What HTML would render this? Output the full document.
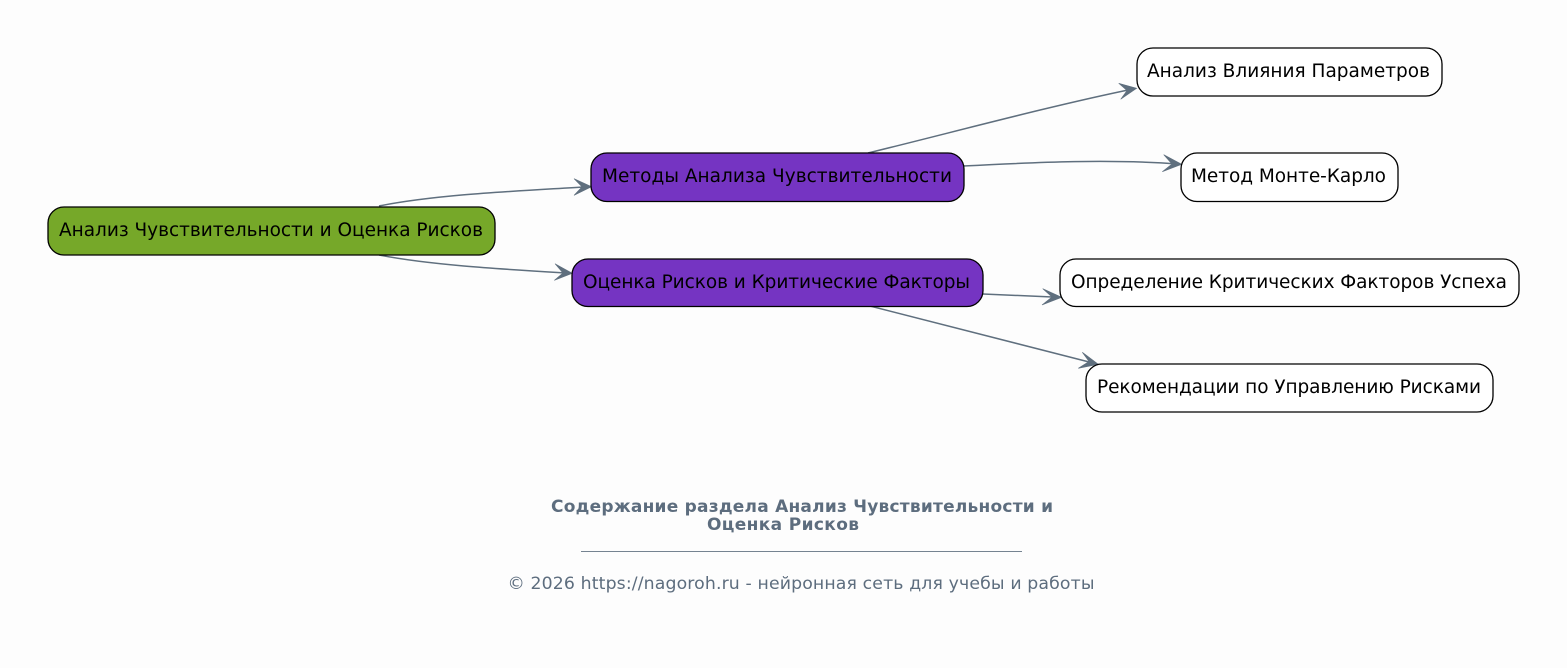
<!DOCTYPE html>
<html><head><meta charset="utf-8"><style>
html,body{margin:0;padding:0;background:#fdfdfd}
svg{display:block}
text{font-family:"DejaVu Sans",sans-serif}
.n{font-size:18.5px;fill:#000}
.e{fill:none;stroke:#5f6f7e;stroke-width:1.5}
.a{fill:#5f6f7e;stroke:#5f6f7e;stroke-width:.6;stroke-linejoin:miter}
.b{stroke:#000;stroke-width:1.3}
</style></head><body>
<svg width="1567" height="668" viewBox="0 0 1567 668" xmlns="http://www.w3.org/2000/svg">
<rect width="1567" height="668" fill="#fdfdfd"/>
<path class="e" d="M379 206C440 194 520 191 588 186.700"/>
<path class="a" d="M591.500 186.700L574 178.700L582 186.800L574 195.300Z"/>
<path class="e" d="M379 255C430 265 500 269 569 273.200"/>
<path class="a" d="M572.300 273.300L555 263.700L563 273L554.300 280.300Z"/>
<path class="e" d="M868 153C950 133 1050 106 1133 89"/>
<path class="a" d="M1136.700 88.300L1118.700 83.300L1127 90.500L1120.700 99.300Z"/>
<path class="e" d="M963 166C1040 162 1110 159 1178 164"/>
<path class="a" d="M1181.700 164.300L1163.700 154.700L1172 164L1162.300 171.700Z"/>
<path class="e" d="M983 294L1058 297.200"/>
<path class="a" d="M1061.700 297.300L1042.700 288.700L1052 297L1042 305Z"/>
<path class="e" d="M870 306C950 327 1030 347 1095 363.500"/>
<path class="a" d="M1098.300 364.300L1082.300 352.300L1089 361.500L1078.300 368.300Z"/>
<rect class="b" x="48" y="207" width="447" height="48" rx="16" fill="#76a829"/>
<rect class="b" x="591" y="153" width="373" height="48.500" rx="16" fill="#7534c2"/>
<rect class="b" x="572" y="259" width="411" height="47.500" rx="16" fill="#7534c2"/>
<rect class="b" x="1137" y="48" width="305" height="48" rx="16" fill="#fff"/>
<rect class="b" x="1181" y="153" width="217" height="48.500" rx="16" fill="#fff"/>
<rect class="b" x="1060" y="259" width="459" height="47.500" rx="16" fill="#fff"/>
<rect class="b" x="1086" y="364" width="407" height="48" rx="16" fill="#fff"/>
<text class="n" x="59" y="236" textLength="424">Анализ Чувствительности и Оценка Рисков</text>
<text class="n" x="602" y="182" textLength="350">Методы Анализа Чувствительности</text>
<text class="n" x="583" y="288" textLength="387">Оценка Рисков и Критические Факторы</text>
<text class="n" x="1147" y="77" textLength="283">Анализ Влияния Параметров</text>
<text class="n" x="1191" y="182" textLength="195">Метод Монте-Карло</text>
<text class="n" x="1071" y="288" textLength="436">Определение Критических Факторов Успеха</text>
<text class="n" x="1097" y="393" textLength="384">Рекомендации по Управлению Рисками</text>
<text x="551" y="512" font-size="17" font-weight="bold" fill="#5d6d7e" textLength="502">Содержание раздела Анализ Чувствительности и</text>
<text x="707" y="530" font-size="17" font-weight="bold" fill="#5d6d7e" textLength="152">Оценка Рисков</text>
<line x1="581" y1="551.500" x2="1022" y2="551.500" stroke="#5d6d7e" stroke-width="1" stroke-opacity=".85"/>
<text x="507.500" y="589" font-size="17.300" fill="#5d6d7e" textLength="587">© 2026 https://nagoroh.ru - нейронная сеть для учебы и работы</text>
</svg>
</body></html>
